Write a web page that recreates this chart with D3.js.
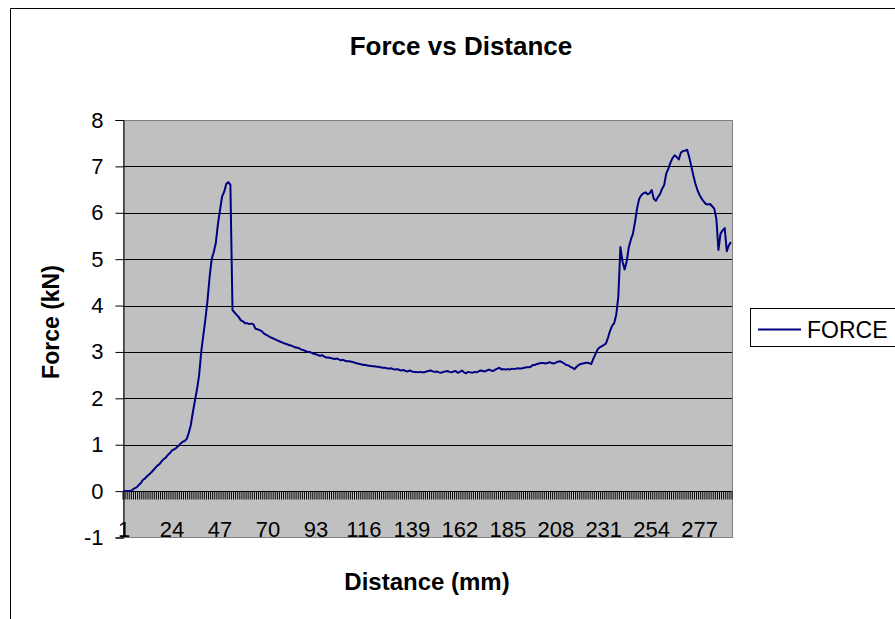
<!DOCTYPE html>
<html>
<head>
<meta charset="utf-8">
<script src="https://cdn.jsdelivr.net/npm/d3@7"></script>
<style>
  body { margin: 0; background: #fff; }
  svg { display: block; font-family: "Liberation Sans", Arial, sans-serif; }
</style>
</head>
<body>
<div id="chart"></div>
<script>
// Force readings (kN), one per distance step
var force = [
  0, 0, 0, 0, 0.03, 0.06, 0.08, 0.13, 0.17, 0.24,
  0.27, 0.32, 0.36, 0.4, 0.45, 0.5, 0.55, 0.58, 0.64, 0.69,
  0.72, 0.78, 0.82, 0.88, 0.9, 0.93, 0.97, 1.02, 1.06, 1.08,
  1.12, 1.25, 1.42, 1.7, 1.95, 2.2, 2.5, 3.0, 3.35, 3.7,
  4.1, 4.6, 5.0, 5.15, 5.35, 5.75, 6.05, 6.35, 6.45, 6.62,
  6.66, 6.6, 3.9, 3.85, 3.8, 3.75, 3.68, 3.66, 3.62, 3.62,
  3.6, 3.61, 3.6, 3.5, 3.49, 3.47, 3.45, 3.4, 3.37, 3.35,
  3.32, 3.3, 3.28, 3.26, 3.24, 3.22, 3.2, 3.18, 3.17, 3.15,
  3.14, 3.12, 3.1, 3.09, 3.08, 3.05, 3.04, 3.02, 3.0, 3.0,
  2.98, 2.96, 2.95, 2.93, 2.92, 2.93, 2.9, 2.88, 2.88, 2.87,
  2.86, 2.85, 2.86, 2.84, 2.82, 2.83, 2.81, 2.8, 2.8, 2.79,
  2.78, 2.76, 2.75, 2.74, 2.73, 2.72, 2.72, 2.7, 2.7, 2.69,
  2.69, 2.68, 2.68, 2.67, 2.66, 2.66, 2.65, 2.64, 2.65, 2.63,
  2.62, 2.63, 2.61, 2.6, 2.61, 2.59, 2.58, 2.6, 2.58, 2.57,
  2.57, 2.56, 2.57, 2.56, 2.56, 2.58, 2.59, 2.6, 2.58, 2.57,
  2.58, 2.56, 2.55, 2.57, 2.58, 2.59, 2.57, 2.56, 2.58, 2.59,
  2.55, 2.57, 2.6, 2.56, 2.54, 2.57, 2.56, 2.55, 2.57, 2.56,
  2.58, 2.6, 2.59, 2.58, 2.6, 2.62, 2.6, 2.59, 2.62, 2.64,
  2.66, 2.62, 2.63, 2.62, 2.63, 2.62, 2.64, 2.63, 2.64, 2.65,
  2.64, 2.65, 2.66, 2.67, 2.67, 2.68, 2.72, 2.72, 2.74, 2.75,
  2.76, 2.76, 2.75, 2.76, 2.78, 2.76, 2.75, 2.77, 2.79, 2.8,
  2.78, 2.75, 2.72, 2.71, 2.68, 2.66, 2.63, 2.68, 2.72, 2.74,
  2.75, 2.76, 2.77, 2.76, 2.74, 2.85, 2.95, 3.05, 3.1, 3.12,
  3.15, 3.18, 3.3, 3.45, 3.56, 3.62, 3.8, 4.2, 5.26, 4.95,
  4.78, 4.95, 5.25, 5.42, 5.55, 5.8, 6.1, 6.3, 6.38, 6.42,
  6.44, 6.4, 6.42, 6.49, 6.3, 6.26, 6.34, 6.4, 6.52, 6.6,
  6.85, 6.95, 7.08, 7.18, 7.24, 7.2, 7.15, 7.3, 7.33, 7.34,
  7.36, 7.2, 7.0, 6.8, 6.62, 6.48, 6.38, 6.3, 6.24, 6.19,
  6.18, 6.19, 6.14, 6.09, 5.87, 5.2, 5.55, 5.62, 5.67, 5.17,
  5.3, 5.37
];

// Distance categories 1..n
var distance = force.map(function (d, i) { return i + 1; });

// Category labels shown every 23 steps
var labelStep = 23;
var distanceLabels = distance.filter(function (d) { return (d - 1) % labelStep === 0; });

// Y tick values
var forceTicks = [-1, 0, 1, 2, 3, 4, 5, 6, 7, 8];

var w = 895;
var h = 619;
var plot = { left: 123, right: 732, top: 120, bottom: 537.5 };

var svg = d3.select("#chart")
  .append("svg")
  .attr("width", w)
  .attr("height", h);

// Chart area frame (runs off the right and bottom edges)
svg.append("path")
  .attr("d", "M10.5," + h + "V8.5H" + w)
  .attr("fill", "none")
  .attr("stroke", "#000")
  .attr("stroke-width", 1);

var xScale = d3.scaleBand()
  .domain(distance)
  .range([plot.left, plot.right])
  .padding(0);

var yScale = d3.scaleLinear()
  .domain([-1, 8])
  .range([plot.bottom, plot.top]);

// Plot area
svg.append("rect")
  .attr("x", plot.left)
  .attr("y", plot.top)
  .attr("width", plot.right - plot.left)
  .attr("height", plot.bottom - plot.top)
  .attr("fill", "#c0c0c0")
  .attr("stroke", "#808080")
  .attr("stroke-width", 1)
  .attr("shape-rendering", "crispEdges");

// Gridlines
svg.append("g")
  .selectAll("line")
  .data(forceTicks.filter(function (d) { return d > -1 && d < 8; }))
  .enter()
  .append("line")
  .attr("x1", plot.left)
  .attr("x2", plot.right)
  .attr("y1", function (d) { return Math.round(yScale(d)) + 0.5; })
  .attr("y2", function (d) { return Math.round(yScale(d)) + 0.5; })
  .attr("stroke", "#000")
  .attr("stroke-width", 1);

// Y axis
var yAxis = svg.append("g")
  .attr("transform", "translate(" + (plot.left + 0.5) + ",0)")
  .call(d3.axisLeft(yScale).tickValues(forceTicks).tickSize(8).tickPadding(12)
    .tickFormat(function (d) { return String(d); }));
yAxis.select(".domain").attr("stroke", "#000");
yAxis.selectAll("text")
  .attr("fill", "#000")
  .style("font-size", "22px")
  .style("font-family", "Liberation Sans, Arial, sans-serif");

// X axis line at zero with a tick at every category boundary
var y0 = Math.round(yScale(0)) + 0.5;
svg.append("line")
  .attr("x1", plot.left)
  .attr("x2", plot.right)
  .attr("y1", y0)
  .attr("y2", y0)
  .attr("stroke", "#000");

svg.append("g")
  .selectAll("line")
  .data(distance.concat([null]))
  .enter()
  .append("line")
  .attr("x1", function (d) { return d === null ? plot.right : xScale(d); })
  .attr("x2", function (d) { return d === null ? plot.right : xScale(d); })
  .attr("y1", y0)
  .attr("y2", y0 + 8)
  .attr("stroke", "#000")
  .attr("stroke-width", 1);

// Category labels at the low end of the plot
var xAxis = svg.append("g")
  .attr("transform", "translate(0," + (plot.bottom - 16.5) + ")")
  .call(d3.axisBottom(xScale).tickValues(distanceLabels).tickSize(0).tickPadding(0));
xAxis.select(".domain").remove();
xAxis.selectAll("text")
  .attr("fill", "#000")
  .style("font-size", "22px")
  .style("font-family", "Liberation Sans, Arial, sans-serif");

// Force line
var line = d3.line()
  .x(function (d, i) { return xScale(distance[i]) + xScale.bandwidth() / 2; })
  .y(function (d) { return yScale(d); });

svg.append("path")
  .datum(force)
  .attr("fill", "none")
  .attr("stroke", "#000080")
  .attr("stroke-width", 2)
  .attr("stroke-linejoin", "round")
  .attr("d", line);

// Titles
svg.append("text")
  .attr("x", 461)
  .attr("y", 55)
  .attr("text-anchor", "middle")
  .style("font-size", "26px")
  .style("font-weight", "bold")
  .text("Force vs Distance");

svg.append("text")
  .attr("x", 427)
  .attr("y", 590)
  .attr("text-anchor", "middle")
  .style("font-size", "24px")
  .style("font-weight", "bold")
  .text("Distance (mm)");

svg.append("text")
  .attr("transform", "translate(59,322) rotate(-90)")
  .attr("text-anchor", "middle")
  .style("font-size", "23px")
  .style("font-weight", "bold")
  .text("Force (kN)");

// Legend
var legend = svg.append("g");
legend.append("rect")
  .attr("x", 750.5)
  .attr("y", 308.5)
  .attr("width", 170)
  .attr("height", 38)
  .attr("fill", "#fff")
  .attr("stroke", "#000");
legend.append("line")
  .attr("x1", 758)
  .attr("x2", 801)
  .attr("y1", 329.5)
  .attr("y2", 329.5)
  .attr("stroke", "#000080")
  .attr("stroke-width", 2);
legend.append("text")
  .attr("x", 807)
  .attr("y", 338)
  .style("font-size", "23px")
  .text("FORCE");
</script>
</body>
</html>
